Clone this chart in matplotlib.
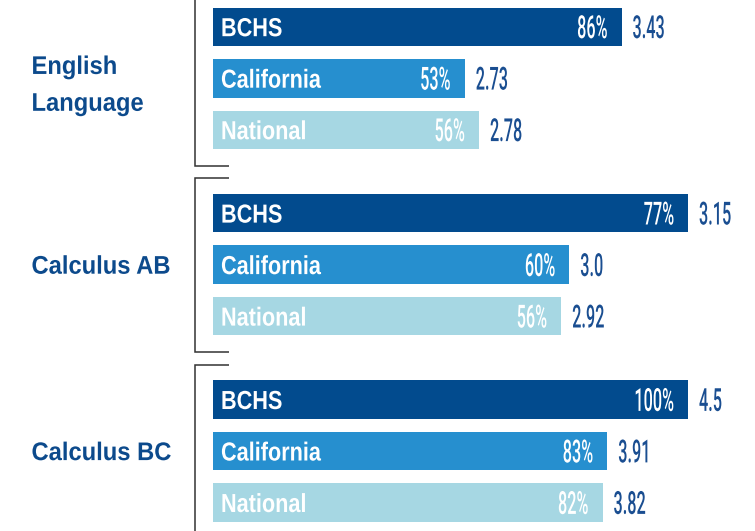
import matplotlib
matplotlib.use("Agg")
import matplotlib.pyplot as plt
import matplotlib.patheffects as pe
from matplotlib.transforms import Affine2D

# ---------------- data ----------------
subjects = ["English\nLanguage", "Calculus AB", "Calculus BC"]
groups = ["BCHS", "California", "National"]
pass_pct = [[86, 53, 56], [77, 60, 56], [100, 83, 82]]
mean_score = [[3.43, 2.73, 2.78], [3.15, 3.0, 2.92], [4.5, 3.91, 3.82]]
# bar lengths as drawn in the picture (percent-axis units)
bar_length = [[86, 53, 56], [100, 75, 73.3], [100, 83, 82]]

# ---------------- style ----------------
bar_colors = ["#024B8E", "#268FCF", "#A6D7E3"]
label_color = "#0C4A8C"
score_color = "#1A4E91"
bracket_color = "#333333"
FONT = "Liberation Sans"
NUMFONT = ["Roboto", "Liberation Sans"]

W, H = 755, 531
X0, XSCALE = 213, 4.75          # pixel where 0% sits, pixels per percent


class Tall(pe.AbstractPathEffect):
    """Stretch glyphs vertically about their baseline (condensed look)."""
    def __init__(self, sy):
        super().__init__()
        self.sy = sy

    def draw_path(self, renderer, gc, tpath, affine, rgbFace=None):
        t = Affine2D().scale(1, self.sy) + affine
        renderer.draw_path(gc, tpath, t, rgbFace)


fig = plt.figure(figsize=(W / 100, H / 100), dpi=100)
ax = fig.add_axes([0, 0, 1, 1])
ax.set_xlim(-X0 / XSCALE, (W - X0) / XSCALE)
ax.set_ylim(H, 0)
ax.axis("off")

group_c0, group_step, bar_step, bar_h = 78.3, 186.4, 51.5, 38.5

for g, subj in enumerate(subjects):
    gc = group_c0 + g * group_step
    centers = [gc + (i - 1) * bar_step for i in range(len(groups))]
    ax.barh(centers, bar_length[g], height=bar_h, left=0,
            color=bar_colors, edgecolor="none", zorder=2)

    # bracket
    xv = (195 - X0) / XSCALE
    xt = (229 - X0) / XSCALE
    top, bot = gc - 86.5, gc + 87.5
    ax.plot([xt, xv, xv, xt], [top, top, bot, bot], color=bracket_color,
            lw=1.1, solid_joinstyle="miter", solid_capstyle="butt", zorder=1)

    # subject label (baseline of last line)
    last_base = -32.5 if "\n" in subj else -9.0
    ax.annotate(subj, xy=(0, gc), xytext=(-181.5, last_base),
                textcoords="offset pixels", ha="left", va="baseline",
                fontsize=17.1, fontweight="bold", family=FONT,
                color=label_color, linespacing=1.77,
                path_effects=[Tall(1.075)])

    for i, grp in enumerate(groups):
        c = centers[i]
        L = bar_length[g][i]
        ax.annotate(grp, xy=(0, c), xytext=(8, -9.4),
                    textcoords="offset pixels", ha="left", va="baseline",
                    fontsize=15.6, fontweight="bold", family=FONT,
                    color="white", path_effects=[Tall(1.205)], zorder=3)
        ax.annotate(f"{pass_pct[g][i]}%", xy=(L, c), xytext=(-14, -11.3),
                    textcoords="offset pixels", ha="right", va="baseline",
                    fontsize=11.7, fontweight="medium", family=NUMFONT,
                    color="white", path_effects=[Tall(1.96)], zorder=3)
        ax.annotate(str(mean_score[g][i]), xy=(L, c), xytext=(11, -11.3),
                    textcoords="offset pixels", ha="left", va="baseline",
                    fontsize=11.7, fontweight="medium", family=NUMFONT,
                    color=score_color, path_effects=[Tall(1.96)], zorder=3)

fig.savefig("out.png", dpi=100)
